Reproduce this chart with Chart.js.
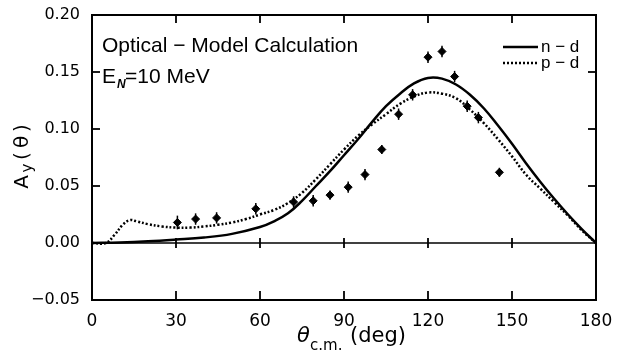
<!DOCTYPE html>
<html>
<head>
<meta charset="utf-8">
<script src="https://cdn.jsdelivr.net/npm/chart.js@4/dist/chart.umd.min.js"></script>
<style>
  html, body { margin: 0; padding: 0; background: #fff; }
  #wrap { width: 619px; height: 352px; }
</style>
</head>
<body>
<div id="wrap"><canvas id="ayChart" width="619" height="352"></canvas></div>
<script>
// measured analysing powers (deg, value, error)
const dataTheta = [30.5, 37, 44.5, 58.5, 72, 79, 85, 91.5, 97.5, 103.5, 109.5, 114.5, 120, 125, 129.5, 134, 138, 145.5];
const dataAy = [0.018, 0.021, 0.022, 0.030, 0.036, 0.037, 0.042, 0.049, 0.060, 0.082, 0.113, 0.130, 0.163, 0.168, 0.146, 0.120, 0.110, 0.062];
const dataErr = [0.006, 0.005, 0.005, 0.005, 0.005, 0.005, 0.004, 0.005, 0.005, 0.004, 0.005, 0.005, 0.005, 0.005, 0.005, 0.005, 0.005, 0.004];

// optical-model curves
const ndTheta = [0, 10, 20, 30, 40, 50, 60, 65, 70, 75, 80, 85, 90, 95, 100, 105, 110, 115, 120, 125, 130, 135, 140, 145, 150, 155, 160, 165, 170, 175, 180];
const ndAy = [0, 0.0005, 0.0015, 0.003, 0.0048, 0.008, 0.014, 0.019, 0.026, 0.037, 0.050, 0.063, 0.077, 0.091, 0.106, 0.120, 0.131, 0.140, 0.1448, 0.1442, 0.139, 0.130, 0.118, 0.103, 0.087, 0.070, 0.054, 0.039, 0.025, 0.012, 0];

const pdTheta = [0, 5, 8, 11, 13.5, 16, 20, 25, 30, 35, 40, 45, 50, 55, 60, 65, 70, 75, 80, 85, 90, 95, 100, 105, 110, 115, 120, 125, 130, 135, 140, 145, 150, 155, 160, 165, 170, 175, 180];
const pdAy = [0, 0, 0.007, 0.016, 0.020, 0.019, 0.0165, 0.0145, 0.0135, 0.0135, 0.0145, 0.016, 0.018, 0.021, 0.025, 0.029, 0.035, 0.044, 0.056, 0.069, 0.082, 0.094, 0.104, 0.113, 0.122, 0.1285, 0.132, 0.131, 0.127, 0.117, 0.105, 0.091, 0.076, 0.060, 0.048, 0.036, 0.024, 0.011, 0];

const xTicks = [0, 30, 60, 90, 120, 150, 180];
const yTicks = [-0.05, 0.00, 0.05, 0.10, 0.15, 0.20];

const FONT = "'DejaVu Sans', sans-serif";
const NOTE_FONT = "'Liberation Sans', sans-serif";

function toPoints(xs, ys) {
  return xs.map((x, i) => ({ x: x, y: ys[i] }));
}

function seg(ctx, x1, y1, x2, y2) {
  ctx.beginPath();
  ctx.moveTo(x1, y1);
  ctx.lineTo(x2, y2);
  ctx.stroke();
}

// frame, inward ticks, zero line, error bars, titles, notes
const decorPlugin = {
  id: "decor",
  afterDraw(chart) {
    const ctx = chart.ctx;
    const area = chart.chartArea;
    const xs = chart.scales.x;
    const ys = chart.scales.y;
    ctx.save();
    ctx.strokeStyle = "#000";
    ctx.fillStyle = "#000";
    ctx.setLineDash([]);
    ctx.lineCap = "butt";

    // error bars
    ctx.lineWidth = 1.5;
    for (let i = 0; i < dataTheta.length; i++) {
      const px = xs.getPixelForValue(dataTheta[i]);
      seg(ctx, px, ys.getPixelForValue(dataAy[i] - dataErr[i]), px, ys.getPixelForValue(dataAy[i] + dataErr[i]));
    }

    // zero line
    const y0 = ys.getPixelForValue(0);
    ctx.lineWidth = 1.5;
    seg(ctx, area.left, y0, area.right, y0);

    // inward ticks, plus small crosses on the zero line
    ctx.lineWidth = 1.8;
    for (let k = 1; k < xTicks.length - 1; k++) {
      const px = xs.getPixelForValue(xTicks[k]);
      seg(ctx, px, y0 - 5, px, y0 + 5);
      seg(ctx, px, area.top, px, area.top + 8);
      seg(ctx, px, area.bottom, px, area.bottom - 9);
    }
    for (let k = 2; k < yTicks.length - 1; k++) {
      const py = ys.getPixelForValue(yTicks[k]);
      seg(ctx, area.left, py, area.left + 8, py);
      seg(ctx, area.right, py, area.right - 8, py);
    }

    // frame
    ctx.lineWidth = 2;
    ctx.strokeRect(area.left, area.top, area.right - area.left, area.bottom - area.top);

    // y title: A_y ( θ ), rotated
    const yParts = [["A", 182, "20px " + FONT, 28], ["y", 168, "15px " + FONT, 32], ["(", 156, "20px " + FONT, 28], ["θ", 142, "20px " + FONT, 28], [")", 128, "20px " + FONT, 28]];
    ctx.textBaseline = "alphabetic";
    ctx.textAlign = "center";
    yParts.forEach((p) => {
      ctx.save();
      ctx.translate(p[3], p[1]);
      ctx.rotate(-Math.PI / 2);
      ctx.font = p[2];
      ctx.fillText(p[0], 0, 0);
      ctx.restore();
    });

    // x title: θ_c.m. (deg)
    ctx.textAlign = "left";
    ctx.font = "italic 21px " + FONT;
    ctx.fillText("θ", 297, 342);
    ctx.font = "15px " + FONT;
    ctx.fillText("c.m.", 310, 350);
    ctx.font = "21px " + FONT;
    ctx.fillText("(deg)", 350, 342);

    // notes
    ctx.font = "21px " + NOTE_FONT;
    ctx.fillText("Optical − Model Calculation", 102, 52);
    ctx.fillText("E", 102, 83);
    ctx.font = "italic bold 12px " + NOTE_FONT;
    ctx.fillText("N", 117, 88);
    ctx.font = "21px " + NOTE_FONT;
    ctx.fillText("=10 MeV", 125, 83);

    // legend
    ctx.lineWidth = 2.5;
    seg(ctx, 503, 47, 538, 47);
    ctx.setLineDash([2, 2]);
    seg(ctx, 503, 63, 538, 63);
    ctx.setLineDash([]);
    ctx.font = "17px " + NOTE_FONT;
    ctx.fillText("n − d", 541, 52);
    ctx.fillText("p − d", 541, 68);

    ctx.restore();
  },
};

const chart = new Chart(document.getElementById("ayChart"), {
  type: "scatter",
  data: {
    datasets: [
      {
        label: "n - d",
        type: "line",
        data: toPoints(ndTheta, ndAy),
        borderColor: "#000",
        borderWidth: 2.5,
        pointRadius: 0,
        fill: false,
        tension: 0.4,
      },
      {
        label: "p - d",
        type: "line",
        data: toPoints(pdTheta, pdAy),
        borderColor: "#000",
        borderWidth: 2.5,
        borderDash: [2, 2],
        pointRadius: 0,
        fill: false,
        tension: 0.4,
      },
      {
        label: "data",
        data: toPoints(dataTheta, dataAy),
        pointStyle: "rectRot",
        pointRadius: 4,
        backgroundColor: "#000",
        borderColor: "#000",
        borderWidth: 1,
      },
    ],
  },
  options: {
    responsive: false,
    animation: false,
    devicePixelRatio: 1,
    layout: { padding: { top: 15, right: 23, left: 0, bottom: 0 } },
    plugins: { legend: { display: false }, tooltip: { enabled: false } },
    scales: {
      x: {
        type: "linear",
        min: 0,
        max: 180,
        grid: { display: false },
        border: { display: false },
        afterFit: (scale) => { scale.height = 52; },
        afterBuildTicks: (scale) => { scale.ticks = xTicks.map((v) => ({ value: v })); },
        ticks: {
          color: "#000",
          padding: 3,
          maxRotation: 0,
          font: { family: FONT, size: 17 },
        },
      },
      y: {
        type: "linear",
        min: -0.05,
        max: 0.20,
        grid: { display: false },
        border: { display: false },
        afterFit: (scale) => { scale.width = 92; },
        afterBuildTicks: (scale) => { scale.ticks = yTicks.map((v) => ({ value: v })); },
        ticks: {
          color: "#000",
          padding: 4,
          font: { family: FONT, size: 16 },
          callback: (v) => (v < 0 ? "−" + Math.abs(v).toFixed(2) : v.toFixed(2)),
        },
      },
    },
  },
  plugins: [decorPlugin],
});
</script>
</body>
</html>
